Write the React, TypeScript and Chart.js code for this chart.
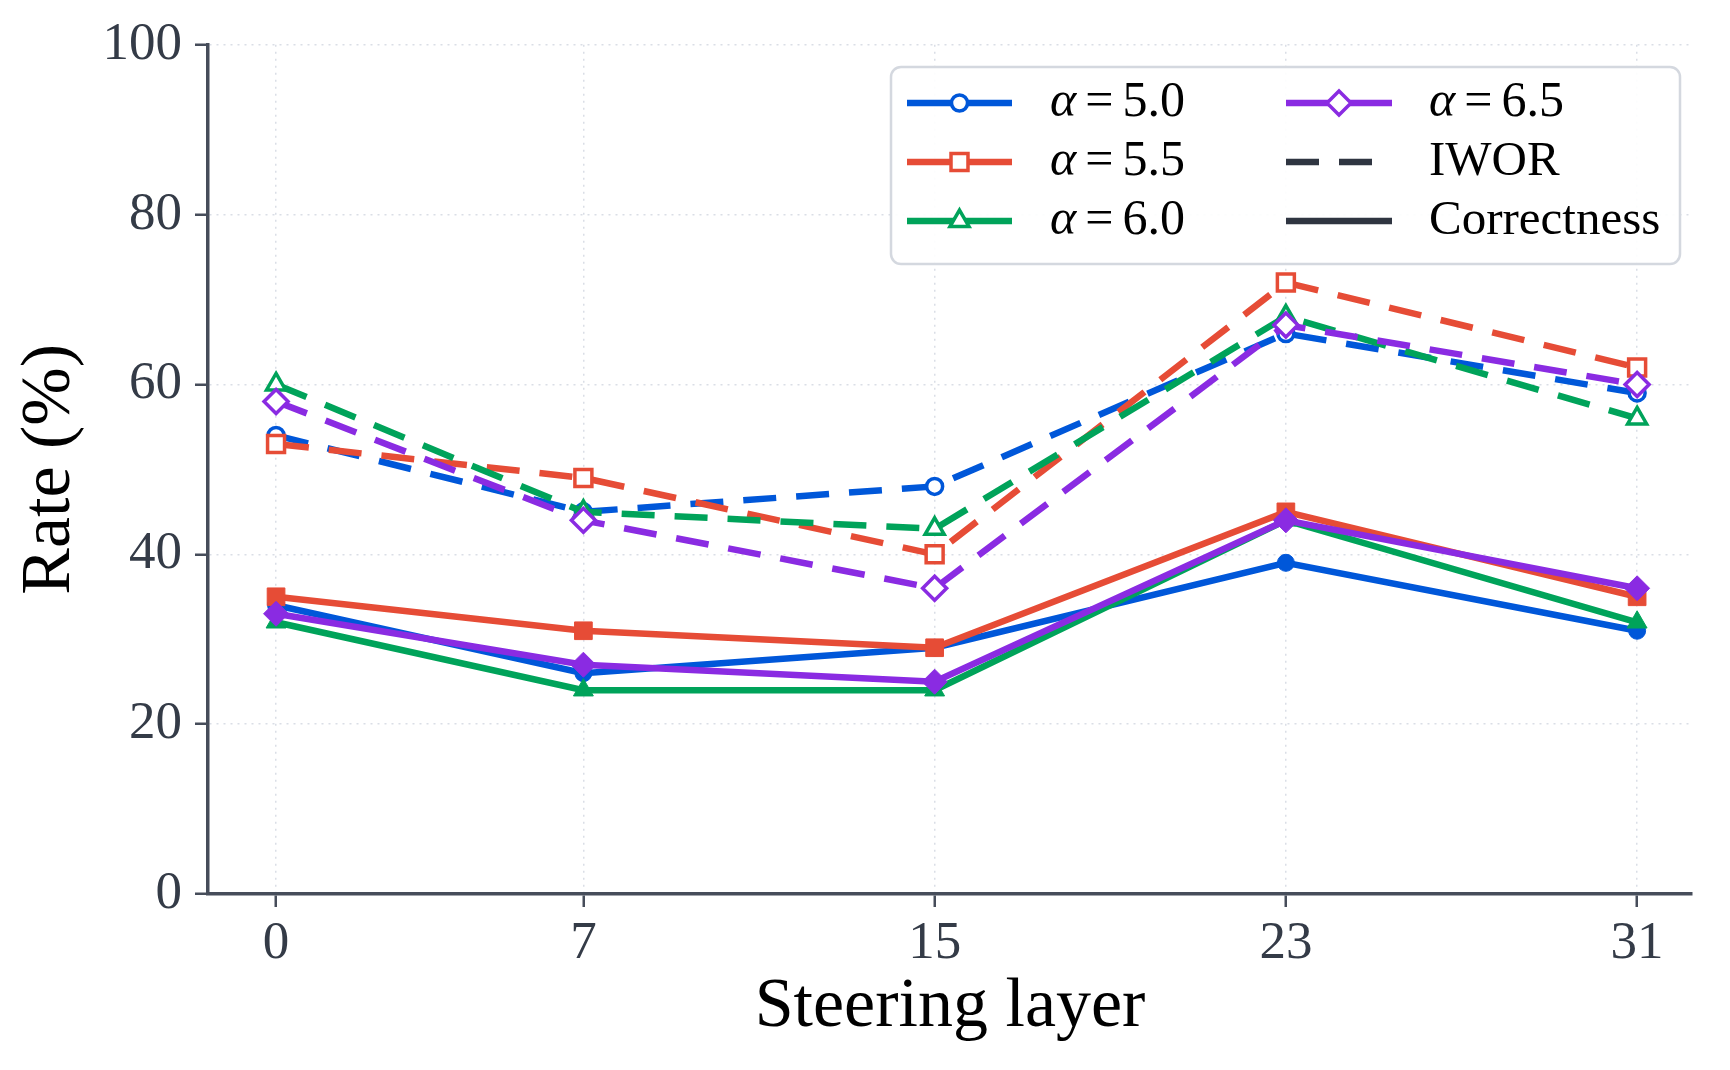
import React, { useEffect, useRef } from 'react';
import { Chart, registerables } from 'chart.js';

Chart.register(...registerables);

// Steering layers on the x axis
const LAYERS = [0, 7, 15, 23, 31];
const ALPHAS = ['5.0', '5.5', '6.0', '6.5'];

// IWOR rate (%) per steering strength
const IWOR_A50 = [54, 45, 48, 66, 59];
const IWOR_A55 = [53, 49, 40, 72, 62];
const IWOR_A60 = [60, 45, 43, 68, 56];
const IWOR_A65 = [58, 44, 36, 67, 60];

// Correctness rate (%) per steering strength
const CORR_A50 = [34, 26, 29, 39, 31];
const CORR_A55 = [35, 31, 29, 45, 35];
const CORR_A60 = [32, 24, 24, 44, 32];
const CORR_A65 = [33, 27, 25, 44, 36];

const Y_TICKS = [0, 20, 40, 60, 80, 100];

const IWOR_SERIES = [IWOR_A50, IWOR_A55, IWOR_A60, IWOR_A65];
const CORR_SERIES = [CORR_A50, CORR_A55, CORR_A60, CORR_A65];

const COLORS = ['#0057d9', '#e64c36', '#00a35a', '#8a2be2'];
const MARKERS = ['circle', 'rect', 'triangle', 'rectRot'];
const RADII: Record<string, number> = { circle: 9, rect: 13, triangle: 12, rectRot: 13 };

const DASH = [33, 20];
const LINE_W = 6.5;
const SERIF = '"Liberation Serif", "Times New Roman", serif';
const INK = '#343b47';
const AXIS = '#464d5a';

function markerPath(ctx: CanvasRenderingContext2D, style: string, x: number, y: number, r: number) {
  ctx.beginPath();
  if (style === 'circle') {
    ctx.arc(x, y, r, 0, Math.PI * 2);
  } else if (style === 'rect') {
    const s = Math.SQRT1_2 * r;
    ctx.rect(x - s, y - s, 2 * s, 2 * s);
  } else if (style === 'triangle') {
    for (let k = 0; k < 3; k++) {
      const a = (k * 2 * Math.PI) / 3;
      const px = x + Math.sin(a) * r;
      const py = y - Math.cos(a) * r;
      if (k === 0) ctx.moveTo(px, py);
      else ctx.lineTo(px, py);
    }
  } else {
    ctx.moveTo(x, y - r);
    ctx.lineTo(x + r, y);
    ctx.lineTo(x, y + r);
    ctx.lineTo(x - r, y);
  }
  ctx.closePath();
}

const legendPlugin = {
  id: 'boxedLegend',
  afterDraw(chart: any) {
    const ctx: CanvasRenderingContext2D = chart.ctx;
    ctx.save();
    const bx = 891, by = 67, bw = 789, bh = 197, br = 10;
    ctx.beginPath();
    ctx.roundRect(bx, by, bw, bh, br);
    ctx.fillStyle = 'rgba(255,255,255,0.92)';
    ctx.fill();
    ctx.lineWidth = 2.5;
    ctx.strokeStyle = '#d4d8df';
    ctx.stroke();

    const rows = [103, 162, 221];
    const col1 = { x0: 907, x1: 1012, tx: 1050 };
    const col2 = { x0: 1286, x1: 1392, tx: 1429 };
    ctx.textBaseline = 'middle';
    ctx.textAlign = 'left';

    const drawAlphaEntry = (i: number, col: any, y: number) => {
      ctx.setLineDash([]);
      ctx.lineCap = 'butt';
      ctx.strokeStyle = COLORS[i];
      ctx.lineWidth = LINE_W;
      ctx.beginPath();
      ctx.moveTo(col.x0, y);
      ctx.lineTo(col.x1, y);
      ctx.stroke();
      const mx = (col.x0 + col.x1) / 2;
      markerPath(ctx, MARKERS[i], mx, y, RADII[MARKERS[i]] - 1);
      ctx.fillStyle = '#ffffff';
      ctx.fill();
      ctx.lineWidth = 3.5;
      ctx.stroke();

      ctx.fillStyle = '#000000';
      ctx.font = `italic 50px ${SERIF}`;
      let cx = col.tx;
      ctx.fillText('α', cx, y);
      cx += ctx.measureText('α').width + 9;
      ctx.font = `50px ${SERIF}`;
      ctx.fillText('=', cx, y);
      cx += ctx.measureText('=').width + 9;
      ctx.fillText(ALPHAS[i], cx, y);
    };

    drawAlphaEntry(0, col1, rows[0]);
    drawAlphaEntry(1, col1, rows[1]);
    drawAlphaEntry(2, col1, rows[2]);
    drawAlphaEntry(3, col2, rows[0]);

    // line-style keys
    ctx.strokeStyle = '#2f3541';
    ctx.lineWidth = LINE_W;
    ctx.setLineDash(DASH);
    ctx.beginPath();
    ctx.moveTo(col2.x0, rows[1]);
    ctx.lineTo(col2.x1, rows[1]);
    ctx.stroke();
    ctx.setLineDash([]);
    ctx.beginPath();
    ctx.moveTo(col2.x0, rows[2]);
    ctx.lineTo(col2.x1, rows[2]);
    ctx.stroke();

    ctx.fillStyle = '#000000';
    ctx.font = `49px ${SERIF}`;
    ctx.fillText('IWOR', col2.tx, rows[1]);
    ctx.fillText('Correctness', col2.tx, rows[2]);
    ctx.restore();
  },
};

export default function App() {
  const canvasRef = useRef<HTMLCanvasElement | null>(null);

  useEffect(() => {
    document.body.style.margin = '0';
    const canvas = canvasRef.current;
    if (!canvas) return;

    const datasets: any[] = [];
    ALPHAS.forEach((a, i) => {
      const style = MARKERS[i];
      const r = RADII[style];
      datasets.push({
        label: `IWOR α=${a}`,
        data: LAYERS.map((x, k) => ({ x, y: IWOR_SERIES[i][k] })),
        borderColor: COLORS[i],
        borderWidth: LINE_W,
        borderDash: DASH,
        borderCapStyle: 'butt',
        pointStyle: style,
        pointRadius: r - 1,
        pointBackgroundColor: '#ffffff',
        pointBorderColor: COLORS[i],
        pointBorderWidth: 3.5,
        tension: 0,
        fill: false,
      });
      datasets.push({
        label: `Correctness α=${a}`,
        data: LAYERS.map((x, k) => ({ x, y: CORR_SERIES[i][k] })),
        borderColor: COLORS[i],
        borderWidth: LINE_W,
        borderCapStyle: 'butt',
        pointStyle: style,
        pointRadius: r - 0.5,
        pointBackgroundColor: COLORS[i],
        pointBorderColor: COLORS[i],
        pointBorderWidth: 1,
        tension: 0,
        fill: false,
      });
    });
    // later series are painted over earlier ones
    datasets.forEach((d, idx) => (d.order = -idx));

    const chart = new Chart(canvas, {
      type: 'line',
      data: { datasets },
      plugins: [legendPlugin],
      options: {
        animation: false,
        responsive: false,
        devicePixelRatio: 1,
        layout: { padding: { left: 0, right: 38, top: 42, bottom: 0 } },
        plugins: {
          legend: { display: false },
          tooltip: { enabled: false },
          title: { display: false },
        },
        scales: {
          x: {
            type: 'linear',
            min: -1.55,
            max: 32.25,
            afterBuildTicks: (scale: any) => {
              scale.ticks = LAYERS.map((v) => ({ value: v }));
            },
            afterFit: (scale: any) => {
              scale.height = 176;
            },
            ticks: {
              autoSkip: false,
              maxRotation: 0,
              padding: 5,
              color: INK,
              font: { family: SERIF, size: 53 },
              callback: (v: any) => String(v),
            },
            grid: {
              color: '#dadee6',
              lineWidth: 1.5,
              tickColor: AXIS,
              tickWidth: 2.5,
              tickLength: 13,
            },
            border: { display: true, color: AXIS, width: 3.5, dash: [2, 5] },
            title: {
              display: true,
              text: 'Steering layer',
              color: '#000000',
              font: { family: SERIF, size: 70 },
              padding: { top: 0, bottom: 20 },
            },
          },
          y: {
            type: 'linear',
            min: 0,
            max: 100,
            afterBuildTicks: (scale: any) => {
              scale.ticks = Y_TICKS.map((v) => ({ value: v }));
            },
            afterFit: (scale: any) => {
              scale.width = 208;
            },
            ticks: {
              padding: 13,
              color: INK,
              font: { family: SERIF, size: 53 },
              callback: (v: any) => String(v),
            },
            grid: {
              color: '#dadee6',
              lineWidth: 1.5,
              tickColor: AXIS,
              tickWidth: 2.5,
              tickLength: 13,
            },
            border: { display: true, color: AXIS, width: 3.5, dash: [2, 5] },
            title: {
              display: true,
              text: 'Rate (%)',
              color: '#000000',
              font: { family: SERIF, size: 70 },
              padding: { top: 9, bottom: 0 },
            },
          },
        },
      },
    } as any);

    return () => chart.destroy();
  }, []);

  return (
    <div style={{ position: 'absolute', left: 0, top: 0, width: 1730, height: 1070, background: '#ffffff' }}>
      <canvas ref={canvasRef} width={1730} height={1070} style={{ display: 'block' }} />
    </div>
  );
}
